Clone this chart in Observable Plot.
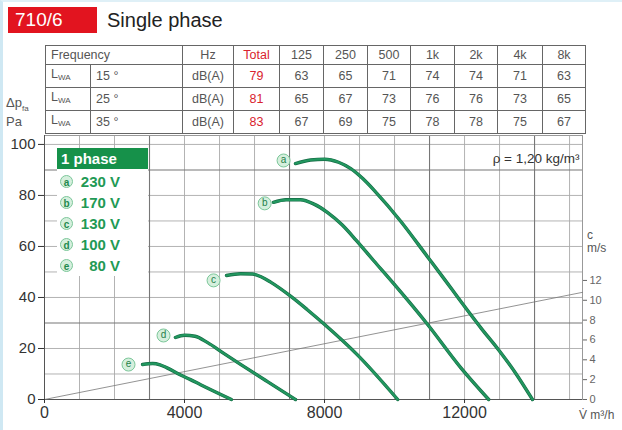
<!DOCTYPE html>
<html>
<head>
<meta charset="utf-8">
<script src="https://cdn.jsdelivr.net/npm/d3@7"></script>
<script src="https://cdn.jsdelivr.net/npm/@observablehq/plot@0.6"></script>
<style>
  html, body { margin: 0; padding: 0; background: #fff; }
  body { width: 622px; height: 430px; position: relative; overflow: hidden; font-family: "Liberation Sans", Arial, sans-serif; }
  .edge { position: absolute; left: 0; top: 0; width: 622px; height: 430px; box-sizing: border-box; border-left: 3px solid #cfe8f3; border-top: 2px solid #dff0f7; pointer-events: none; z-index: 10; }
  #badge { position: absolute; left: 8px; top: 7px; width: 89px; height: 26px; background: #e2141f; color: #fff; font-size: 19px; line-height: 26px; padding-left: 7px; box-sizing: border-box; }
  #title { position: absolute; left: 107px; top: 7px; font-size: 20px; line-height: 26px; color: #222; }
  #tbl { position: absolute; left: 45px; top: 45px; border-collapse: collapse; font-family: "Liberation Sans Narrow", "Liberation Sans", sans-serif; font-size: 12.5px; color: #555; }
  #tbl td { border: 1px solid #666; height: 18px; padding: 0; text-align: center; line-height: 18px; }
  #tbl td.l { text-align: left; padding-left: 5px; }
  #tbl td.red { color: #d9232e; }
  #tbl sub { font-size: 8px; vertical-align: -2px; }
  #chart { position: absolute; left: 0; top: 100px; }
  #legend { position: absolute; left: 57px; top: 148px; width: 91px; height: 128px; background: #fff; z-index: 5; }
  #legend .hd { background: #16914a; color: #fff; font-weight: bold; font-size: 15px; height: 21px; line-height: 21px; padding-left: 4px; }
  #legend .row { position: absolute; left: 0; width: 91px; height: 20px; }
  #legend .circ { position: absolute; left: 3px; top: 3px; width: 13px; height: 13px; border-radius: 50%; background: #d5efdd; border: 1px solid #7cc79a; color: #1f8a4e; font-size: 10px; line-height: 13px; text-align: center; box-sizing: border-box; font-weight: bold; }
  #legend .v { position: absolute; right: 28px; top: 0; font-weight: bold; font-size: 15px; line-height: 20px; color: #1f9a55; white-space: nowrap; }
  .lab { position: absolute; color: #555; font-size: 12px; line-height: 13px; }
</style>
</head>
<body>
<div class="edge"></div>
<div id="badge">710/6</div>
<div id="title">Single phase</div>
<table id="tbl"></table>
<div class="lab" style="left:6px; top:96px; font-size:13px;">Δp<sub style="font-size:8px">fa</sub><br>Pa</div>
<div class="lab" style="left:587px; top:229px;">c<br>m/s</div>
<div class="lab" style="left:579px; top:409px;">V̇ m³/h</div>
<div id="chart"></div>
<div id="legend"></div>
<script>
// ---- Sound table data ----
const bands = ["125", "250", "500", "1k", "2k", "4k", "8k"];
const temps = ["15 °", "25 °", "35 °"];
const totals = [79, 81, 83];
const lwa15 = [63, 65, 71, 74, 74, 71, 63];
const lwa25 = [65, 67, 73, 76, 76, 73, 65];
const lwa35 = [67, 69, 75, 78, 78, 75, 67];
const colWidths = [45, 92, 51, 46, 44, 44, 43, 44, 43, 45, 43];

// ---- Fan curves (V in m3/h, dp in Pa) ----
const curveIds = ["a", "b", "c", "d", "e"];
const voltages = ["230 V", "170 V", "130 V", "100 V", "80 V"];
const curveA_V = [7170, 7600, 8000, 8400, 8750, 9100, 9450, 10170, 10940, 11460, 11890, 12500, 12970, 13450, 13940];
const curveA_P = [92.5, 93.9, 94.2, 93.0, 90.5, 86.5, 81.5, 70.0, 56.0, 46.5, 38.5, 27.5, 19.5, 10.5, 0];
const curveB_V = [6540, 6900, 7310, 7700, 8090, 8500, 8900, 9400, 9970, 10940, 11890, 12690];
const curveB_P = [77.3, 78.3, 78.3, 76.6, 73.3, 68.5, 62.5, 54.5, 45.5, 29.5, 12.5, 0];
const curveC_V = [5200, 5600, 5940, 6200, 6460, 7030, 7500, 7970, 8940, 10090];
const curveC_P = [48.6, 49.3, 49.2, 48.0, 46.0, 40.5, 35.3, 29.8, 17.5, 0];
const curveD_V = [3740, 4000, 4300, 4660, 5110, 5600, 6370, 7170];
const curveD_P = [24.3, 25.2, 24.8, 22.3, 18.2, 13.8, 7.0, 0];
const curveE_V = [2800, 3090, 3300, 3500, 3890, 4170, 4460, 5340];
const curveE_P = [13.7, 14.1, 13.6, 12.4, 9.6, 7.8, 5.8, 0];
const labelV = [6830, 6290, 4830, 3400, 2400];
const labelP = [93.7, 76.9, 46.7, 25.1, 13.7];

// ---- Outlet velocity line (c in m/s) ----
const velLineV = [0, 15370];
const velLineC = [0, 10.8];
const cTicks = [0, 2, 4, 6, 8, 10, 12];

// ---- Axes / grid ----
const xTicks = [0, 4000, 8000, 12000];
const yTicks = [0, 20, 40, 60, 80, 100];
const gridV = [1000, 2000, 4000, 5000, 6000, 8000, 9000, 10000, 12000, 13000, 15000];
const gridVdark = [3000, 7000, 11000, 14000];
const gridP = [10, 20, 40, 50, 60, 70, 80, 100];
const gridPdark = [30, 90];

// build table
const tbl = document.getElementById("tbl");
const cg = document.createElement("colgroup");
colWidths.forEach(w => { const c = document.createElement("col"); c.style.width = w + "px"; cg.appendChild(c); });
tbl.appendChild(cg);
let html = `<tr><td class="l" colspan="2">Frequency</td><td>Hz</td><td class="red">Total</td>${bands.map(b => `<td>${b}</td>`).join("")}</tr>`;
[lwa15, lwa25, lwa35].forEach((row, i) => {
  html += `<tr><td class="l">L<sub>WA</sub></td><td class="l">${temps[i]}</td><td>dB(A)</td><td class="red">${totals[i]}</td>${row.map(v => `<td>${v}</td>`).join("")}</tr>`;
});
tbl.insertAdjacentHTML("beforeend", html);

// legend
const lg = document.getElementById("legend");
let lh = `<div class="hd">1 phase</div>`;
curveIds.forEach((id, i) => {
  lh += `<div class="row" style="top:${24 + i * 21}px"><div class="circ">${id}</div><div class="v">${voltages[i]}</div></div>`;
});
lg.innerHTML = lh;

// chart data
const allV = [curveA_V, curveB_V, curveC_V, curveD_V, curveE_V];
const allP = [curveA_P, curveB_P, curveC_P, curveD_P, curveE_P];
const curves = allV.flatMap((vs, i) => vs.map((v, j) => ({id: curveIds[i], V: v, P: allP[i][j]})));
const labels = curveIds.map((id, i) => ({id, V: labelV[i], P: labelP[i]}));
const k = 3.89; // Pa-axis units per m/s on the secondary axis
const velLine = velLineV.map((v, i) => ({V: v, P: velLineC[i] * k}));

const chart = Plot.plot({
  width: 622,
  height: 330,
  marginTop: 35,
  marginBottom: 31,
  marginLeft: 44,
  marginRight: 40,
  style: {fontFamily: "Liberation Sans, Arial, sans-serif", background: "transparent", overflow: "visible"},
  x: {domain: [0, 15370]},
  y: {domain: [0, 103.5]},
  marks: [
    Plot.ruleX(gridV, {stroke: "#aaa", strokeWidth: 0.9}),
    Plot.ruleY(gridP, {stroke: "#aaa", strokeWidth: 0.9}),
    Plot.ruleX(gridVdark, {stroke: "#777", strokeWidth: 1.1}),
    Plot.ruleY(gridPdark, {stroke: "#777", strokeWidth: 1.1}),
    Plot.frame({stroke: "#999"}),
    Plot.ruleX([0], {stroke: "#555"}),
    Plot.ruleY([0], {stroke: "#555"}),
    Plot.line(velLine, {x: "V", y: "P", stroke: "#777", strokeWidth: 0.8}),
    Plot.line(curves, {x: "V", y: "P", z: "id", curve: "monotone-x", stroke: "#156b45", strokeWidth: 3.4}),
    Plot.line(curves, {x: "V", y: "P", z: "id", curve: "monotone-x", stroke: "#22975f", strokeWidth: 2.2}),
    Plot.dot(labels, {x: "V", y: "P", r: 6.5, fill: "#d5efdd", stroke: "#7cc79a", strokeWidth: 1}),
    Plot.text(labels, {x: "V", y: "P", text: "id", fill: "#1f7f4a", fontSize: 10, dy: -0.5}),
    Plot.text(["ρ = 1,20 kg/m³"], {frameAnchor: "top-right", dx: -3, dy: 18, fontSize: 13.5, fill: "#333", textAnchor: "end"}),
    Plot.axisY(yTicks, {anchor: "left", tickSize: 6, tickPadding: 3, fontSize: 15, color: "#333", label: null}),
    Plot.axisX(xTicks, {anchor: "bottom", tickSize: 4, tickPadding: 3, fontSize: 16, color: "#333", label: null, tickFormat: d => String(d)}),
    Plot.axisY(cTicks.map(c => c * k), {anchor: "right", tickSize: 4, tickPadding: 3, fontSize: 11, color: "#666", label: null, tickFormat: d => String(Math.round(d / k))})
  ]
});
document.getElementById("chart").appendChild(chart);
</script>
</body>
</html>
